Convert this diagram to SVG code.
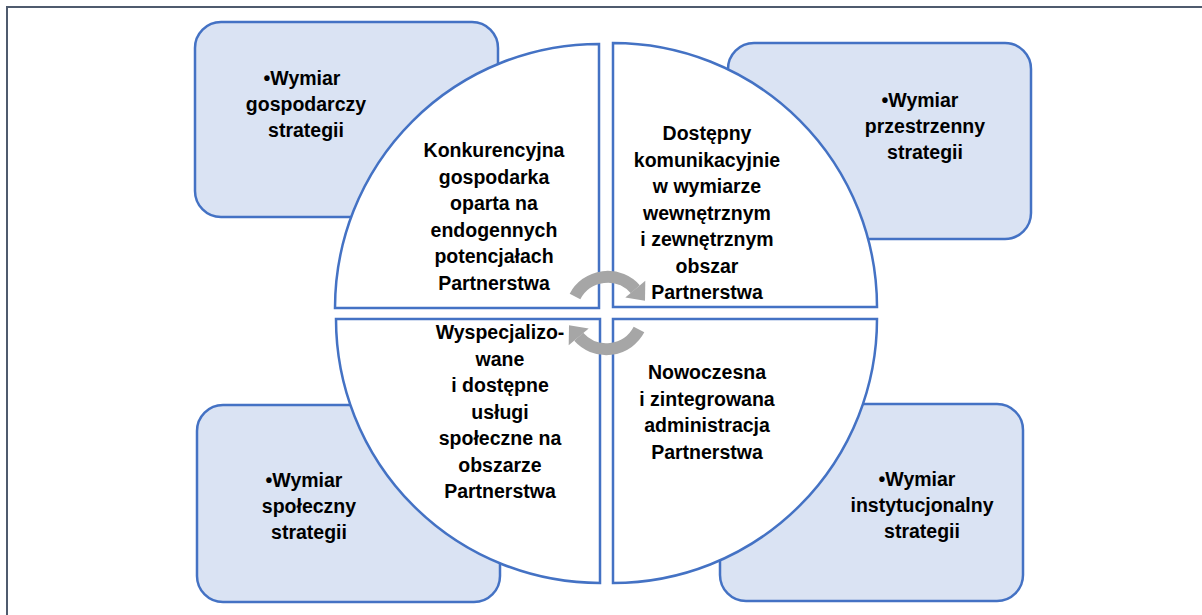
<svg xmlns="http://www.w3.org/2000/svg" width="1202" height="615" viewBox="0 0 1202 615">
<style>
.frame{fill:none;stroke:#4f5b6e;stroke-width:2}
.box{fill:#dae3f3;stroke:#4472c4;stroke-width:2.5}
.q{fill:#ffffff;stroke:#4472c4;stroke-width:2.5}
.t{font-family:"Liberation Sans",Arial,sans-serif;font-weight:bold;font-size:19.5px;fill:#000;text-anchor:middle}
.arc{fill:none;stroke:#a6a6a6;stroke-width:12}
.head{fill:#a6a6a6}
</style>
<rect width="1202" height="615" fill="#ffffff"/>
<path class="frame" d="M7,615 V7 H1202"/>
<g id="box-gospodarczy">
<rect class="box" x="195" y="22" width="303" height="195" rx="26"/>
<text class="t"><tspan x="302" y="85">•Wymiar</tspan><tspan x="306" y="111">gospodarczy</tspan><tspan x="306" y="137">strategii</tspan></text>
</g>
<g id="box-przestrzenny">
<rect class="box" x="728" y="43" width="303" height="196" rx="26"/>
<text class="t"><tspan x="920" y="107">•Wymiar</tspan><tspan x="925" y="133">przestrzenny</tspan><tspan x="925" y="159">strategii</tspan></text>
</g>
<g id="box-spoleczny">
<rect class="box" x="197" y="405" width="303" height="197" rx="26"/>
<text class="t"><tspan x="304" y="487">•Wymiar</tspan><tspan x="309" y="513">społeczny</tspan><tspan x="309" y="539">strategii</tspan></text>
</g>
<g id="box-instytucjonalny">
<rect class="box" x="720" y="404" width="303" height="197" rx="26"/>
<text class="t"><tspan x="917" y="486">•Wymiar</tspan><tspan x="922" y="512">instytucjonalny</tspan><tspan x="922" y="538">strategii</tspan></text>
</g>
<g id="q-gospodarka">
<path class="q" d="M599,308 H335 A264,264 0 0 1 599,44 Z"/>
<text class="t"><tspan x="494" y="157">Konkurencyjna</tspan><tspan x="494" y="183.5">gospodarka</tspan><tspan x="494" y="210">oparta na</tspan><tspan x="494" y="236.5">endogennych</tspan><tspan x="494" y="263">potencjałach</tspan><tspan x="494" y="289.5">Partnerstwa</tspan></text>
</g>
<g id="q-komunikacja">
<path class="q" d="M613,307 V43 A264,264 0 0 1 877,307 Z"/>
<text class="t"><tspan x="707" y="140">Dostępny</tspan><tspan x="707" y="166.5">komunikacyjnie</tspan><tspan x="707" y="193">w wymiarze</tspan><tspan x="707" y="219.5">wewnętrznym</tspan><tspan x="707" y="246">i zewnętrznym</tspan><tspan x="707" y="272.5">obszar</tspan><tspan x="707" y="299">Partnerstwa</tspan></text>
</g>
<g id="q-uslugi">
<path class="q" d="M600,319 V583 A264,264 0 0 1 336,319 Z"/>
<text class="t"><tspan x="500" y="339">Wyspecjalizo-</tspan><tspan x="500" y="365.5">wane</tspan><tspan x="500" y="392">i dostępne</tspan><tspan x="500" y="418.5">usługi</tspan><tspan x="500" y="445">społeczne na</tspan><tspan x="500" y="471.5">obszarze</tspan><tspan x="500" y="498">Partnerstwa</tspan></text>
</g>
<g id="q-administracja">
<path class="q" d="M613,319 H877 A264,264 0 0 1 613,583 Z"/>
<text class="t"><tspan x="707" y="379">Nowoczesna</tspan><tspan x="707" y="405.5">i zintegrowana</tspan><tspan x="707" y="432">administracja</tspan><tspan x="707" y="458.5">Partnerstwa</tspan></text>
</g>
<g id="connectors">
<g id="cycle-top">
<path class="arc" d="M575,296.5 A37,37 0 0 1 635.3,289.2"/>
<polygon class="head" points="645.3,280.8 625.3,297.6 645,300.7"/>
</g>
<g id="cycle-bottom" transform="rotate(180 607 313)">
<path class="arc" d="M575,296.5 A37,37 0 0 1 635.3,289.2"/>
<polygon class="head" points="645.3,280.8 625.3,297.6 645,300.7"/>
</g>
</g>
</svg>
